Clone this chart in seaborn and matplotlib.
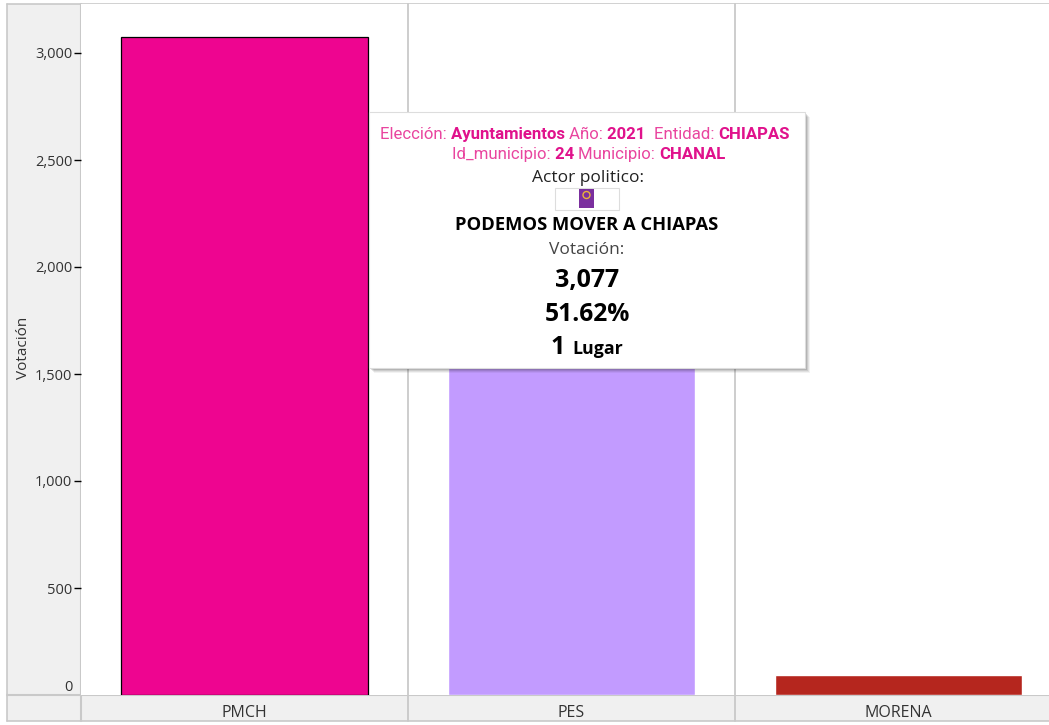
import matplotlib
matplotlib.use("Agg")
import matplotlib.pyplot as plt
from matplotlib.patches import Rectangle, Circle
import pandas as pd
import seaborn as sns

# values (PES top is hidden by the tooltip, estimated)
actores = ["PMCH", "PES", "MORENA"]
votos = [3077, 2650, 95]
colores = ["#EE0590", "#C29BFF", "#B5261E"]
y_ticks = [0, 500, 1000, 1500, 2000, 2500, 3000]

W, H = 1049, 725
GRIS = "#C9C9C9"
BANDA = "#F0F0F0"
ROSA = "#E0128C"
ROSA_CLARO = "#E9459F"

sns.set_theme(style="white")
plt.rcParams["font.family"] = ["Open Sans", "DejaVu Sans"]

df = pd.DataFrame({"actor": actores, "votos": votos})

fig = plt.figure(figsize=(W / 100, H / 100), dpi=100, facecolor="white")

# background panels, in pixel coordinates
bg = fig.add_axes([0, 0, 1, 1], zorder=0)
bg.set_xlim(0, W)
bg.set_ylim(H, 0)
bg.axis("off")
bg.add_patch(Rectangle((7, 4), 74, 717, fc=BANDA, ec="none"))
bg.add_patch(Rectangle((7, 695), W - 7, 26, fc=BANDA, ec="none"))
bg.plot([7, W], [4, 4], color=GRIS, lw=1.2)
bg.plot([7, W], [721, 721], color=GRIS, lw=1.2)
bg.plot([7, 7], [4, 721], color=GRIS, lw=1.2)
bg.plot([7, W], [695, 695], color=GRIS, lw=1.5)
bg.plot([81, 81], [4, 721], color=GRIS, lw=1.5)

# main chart
ax = fig.add_axes([81 / W, (H - 695) / H, (W - 81) / W, 691 / H], zorder=1)
sns.barplot(data=df, x="actor", y="votos", hue="actor", order=actores, hue_order=actores,
            palette=colores, width=0.753, saturation=1, legend=False, ax=ax)
ax.set_xlim(-0.5, (W - 81) / 327 - 0.5)
ax.set_ylim(0, 691 / 0.214)
ax.set_yticks(y_ticks)
ax.set_yticklabels([f"{v:,}" for v in y_ticks])
ax.tick_params(axis="y", length=5, width=1, color="black", pad=1.3, labelsize=10.5, labelcolor="#333333", left=True)
ax.tick_params(axis="x", length=0, pad=7.5, labelsize=11.5, labelcolor="#333333")
ax.set_xlabel("")
ax.set_ylabel("Votación", fontsize=11, color="#333333")
ax.yaxis.set_label_coords(-(81 - 31) / (W - 81), 0.502)
for s in ax.spines.values():
    s.set_visible(False)

# only the hovered bar has an outline
ax.patches[0].set_edgecolor("black")
ax.patches[0].set_linewidth(0.9)

# zero label sits above the baseline, with no tick
t0 = ax.yaxis.get_major_ticks()[0]
t0.tick1line.set_visible(False)
t0.label1.set_va("bottom")

for x in [0.5, 1.5]:
    ax.plot([x, x], [1, -26 / 691], transform=ax.get_xaxis_transform(), color=GRIS, lw=1.3, clip_on=False, zorder=0.5)

# tooltip
tip = fig.add_axes([0, 0, 1, 1], zorder=2)
tip.set_xlim(0, W)
tip.set_ylim(H, 0)
tip.axis("off")
for off, a in [(5, 0.05), (4, 0.07), (3, 0.09), (2, 0.12), (1, 0.15)]:
    tip.add_patch(Rectangle((369 + off, 112 + off), 436, 256, fc="black", ec="none", alpha=a))
tip.add_patch(Rectangle((369, 112), 436, 256, fc="white", ec="#DDDDDD", lw=0.8))


def linea(y, trozos, cx=587):
    """Draw one centred line out of (text, size, weight, colour, family) pieces."""
    r = fig.canvas.get_renderer()
    arts = [tip.text(0, y, s, fontsize=fs, fontweight=fw, color=c, family=fam, va="baseline", ha="left")
            for s, fs, fw, c, fam in trozos]
    anchos = [a.get_window_extent(r).width for a in arts]
    x = cx - sum(anchos) / 2
    for a, w in zip(arts, anchos):
        a.set_x(x)
        x += w


RB = "Roboto"
OS = "Open Sans"
FS = 12.1
linea(139, [("Elección: ", FS, "normal", ROSA_CLARO, RB), ("Ayuntamientos ", FS, "bold", ROSA, RB),
            ("Año: ", FS, "normal", ROSA_CLARO, RB), ("2021  ", FS, "bold", ROSA, RB),
            ("Entidad: ", FS, "normal", ROSA_CLARO, RB), ("CHIAPAS", FS, "bold", ROSA, RB)], cx=585)
linea(159, [("Id_municipio: ", FS, "normal", ROSA_CLARO, RB), ("24 ", FS, "bold", ROSA, RB),
            ("Municipio: ", FS, "normal", ROSA_CLARO, RB), ("CHANAL", FS, "bold", ROSA, RB)], cx=589)
linea(182, [("Actor politico:", 12.5, "normal", "#222222", OS)], cx=588)
linea(230, [("PODEMOS MOVER A CHIAPAS", 13.2, "bold", "black", OS)])
linea(254, [("Votación:", 12.5, "normal", "#444444", OS)])
linea(287, [("3,077", 18, "bold", "black", OS)])
linea(321, [("51.62%", 17.7, "bold", "black", OS)])
linea(354, [("1 ", 18, "bold", "black", OS), ("Lugar", 12.8, "bold", "black", OS)])

# party logo placeholder
tip.add_patch(Rectangle((555, 188), 64, 22, fc="white", ec="#DDDDDD", lw=0.8))
tip.add_patch(Rectangle((579, 189), 15, 19, fc="#7B2F9E", ec="none"))
tip.add_patch(Circle((586.5, 195), 3.5, fc="none", ec="#E8B33A", lw=1))

fig.savefig("out.png", dpi=100)
